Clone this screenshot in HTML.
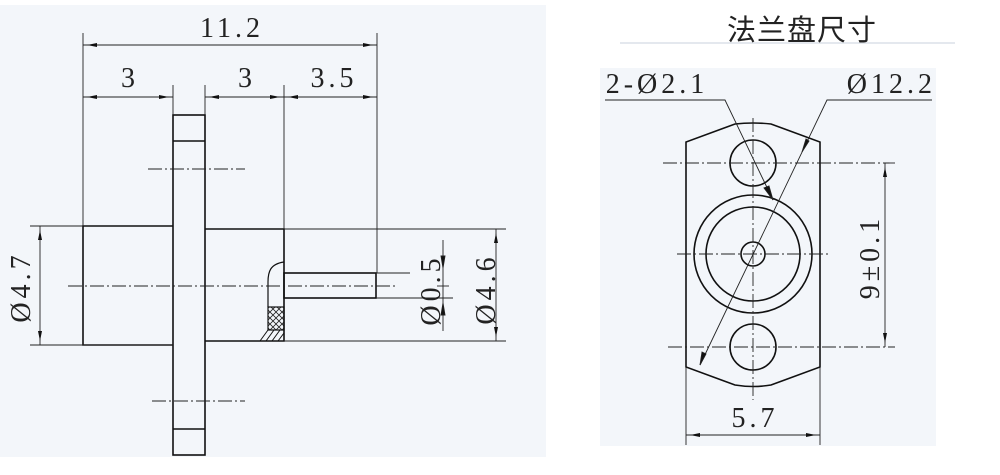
<!DOCTYPE html>
<html><head><meta charset="utf-8"><style>
body{margin:0;background:#fff;width:1000px;height:475px;overflow:hidden}
svg{display:block}
text{font-family:"Liberation Serif",serif;fill:#222;letter-spacing:4px}
</style></head><body>
<svg width="1000" height="475" viewBox="0 0 1000 475">
<defs>
<marker id="a" markerWidth="16" markerHeight="6" refX="14" refY="3" orient="auto-start-reverse" markerUnits="userSpaceOnUse"><path d="M10,3 L0,1 L0,5 Z" fill="#111"/></marker>
<pattern id="x" width="6" height="6" patternUnits="userSpaceOnUse"><path d="M0,0L6,6M6,0L0,6" stroke="#222" stroke-width="0.8"/></pattern>
</defs>
<rect x="0" y="5" width="546" height="452" fill="#f3f6fa"/>
<rect x="600" y="68" width="336" height="378" fill="#f3f6fa"/>
<g stroke="#111" stroke-width="1.6" fill="none">
<rect x="173" y="115" width="32" height="340"/>
<line x1="173" y1="141" x2="205" y2="141"/><line x1="173" y1="429" x2="205" y2="429"/>
<path d="M173,226H83V345H173"/>
<path d="M205,229H284V341H205"/>
<rect x="284" y="273" width="92" height="25"/>
<path d="M284,262 C270,264 268,272 268,282 V307" stroke-width="1.2"/>
<rect x="268" y="307" width="16" height="23" fill="url(#x)" stroke-width="1.2"/>
<path d="M260,341 L268,330 M266,341 L274,330 M272,341 L280,330 M278,341 L284,333" stroke-width="1"/>
</g>
<g stroke="#222" stroke-width="0.9" fill="none">
<line x1="83" y1="33" x2="83" y2="226"/><line x1="377" y1="33" x2="377" y2="273"/>
<line x1="173" y1="85" x2="173" y2="115"/><line x1="205" y1="85" x2="205" y2="115"/>
<line x1="284" y1="85" x2="284" y2="229"/>
<line x1="83" y1="45" x2="377" y2="45" marker-start="url(#a)" marker-end="url(#a)"/>
<line x1="83" y1="97" x2="173" y2="97" marker-start="url(#a)" marker-end="url(#a)"/>
<line x1="205" y1="97" x2="284" y2="97" marker-start="url(#a)" marker-end="url(#a)"/>
<line x1="284" y1="97" x2="377" y2="97" marker-start="url(#a)" marker-end="url(#a)"/>
<line x1="30" y1="226" x2="83" y2="226"/><line x1="30" y1="345" x2="173" y2="345"/>
<line x1="40" y1="226" x2="40" y2="345" marker-start="url(#a)" marker-end="url(#a)"/>
<line x1="284" y1="229" x2="506" y2="229"/><line x1="284" y1="341" x2="506" y2="341"/>
<line x1="496" y1="229" x2="496" y2="341" marker-start="url(#a)" marker-end="url(#a)"/>
<line x1="376" y1="273" x2="410" y2="273"/><line x1="376" y1="298" x2="453" y2="298"/>
<line x1="443" y1="240" x2="443" y2="331"/>
<path d="M443,268 L441,256 L445,256Z M443,303 L441,315 L445,315Z" fill="#111"/>
<line x1="437" y1="286" x2="449" y2="286"/>
<g stroke-dasharray="14,3,2,3">
<line x1="68" y1="286" x2="397" y2="286"/>
<line x1="148" y1="169" x2="245" y2="169"/>
<line x1="152" y1="401" x2="245" y2="401"/>
</g>
<line x1="620" y1="43" x2="955" y2="43" stroke="#e4e8ee" stroke-width="2"/>
</g>
<g stroke="#111" stroke-width="1.6" fill="none">
<path d="M686,367 V142 L735,124 Q753,122 771,124 L820,142 V367 L771,385 Q753,388 735,385 Z"/>
<circle cx="753" cy="163" r="23"/><circle cx="753" cy="347" r="23"/>
<circle cx="753" cy="254" r="59"/><circle cx="753" cy="254" r="47"/><circle cx="753" cy="254" r="12"/>
</g>
<g stroke="#222" stroke-width="0.9" fill="none">
<g stroke-dasharray="14,3,2,3">
<line x1="663" y1="163" x2="895" y2="163"/>
<line x1="677" y1="254" x2="830" y2="254"/>
<line x1="668" y1="347" x2="895" y2="347"/>
<line x1="753" y1="118" x2="753" y2="400"/>
</g>
<line x1="885" y1="163" x2="885" y2="347" marker-start="url(#a)" marker-end="url(#a)"/>
<line x1="686" y1="367" x2="686" y2="445"/><line x1="820" y1="367" x2="820" y2="445"/>
<line x1="686" y1="435" x2="820" y2="435" marker-start="url(#a)" marker-end="url(#a)"/>
<polyline points="605,100 725,100 773,200" />
<path d="M773,200 L764,188 L769,186Z" fill="#111"/>
<polyline points="932,100 827,100 700,365"/>
<path d="M802,152 L806,139 L809,141Z M700,365 L702,352 L706,354Z" fill="#111"/>
</g>
<g font-size="28">
<text x="232" y="37" text-anchor="middle">11.2</text>
<text x="130" y="87" text-anchor="middle">3</text>
<text x="247" y="87" text-anchor="middle">3</text>
<text x="334" y="87" text-anchor="middle">3.5</text>
<text transform="translate(30,287) rotate(-90)" text-anchor="middle">Ø4.7</text>
<text transform="translate(440,290) rotate(-90)" text-anchor="middle">Ø0.5</text>
<text transform="translate(495,289) rotate(-90)" text-anchor="middle">Ø4.6</text>
<text x="657" y="93" text-anchor="middle">2-Ø2.1</text>
<text x="936" y="93" text-anchor="end">Ø12.2</text>
<text transform="translate(879,257) rotate(-90)" text-anchor="middle">9±0.1</text>
<text x="755" y="427" text-anchor="middle">5.7</text>
</g>
<text x="802" y="40" font-size="29" text-anchor="middle" style="font-family:'Liberation Sans','Noto Sans CJK SC',sans-serif;letter-spacing:1px">法兰盘尺寸</text>
</svg>
</body></html>
